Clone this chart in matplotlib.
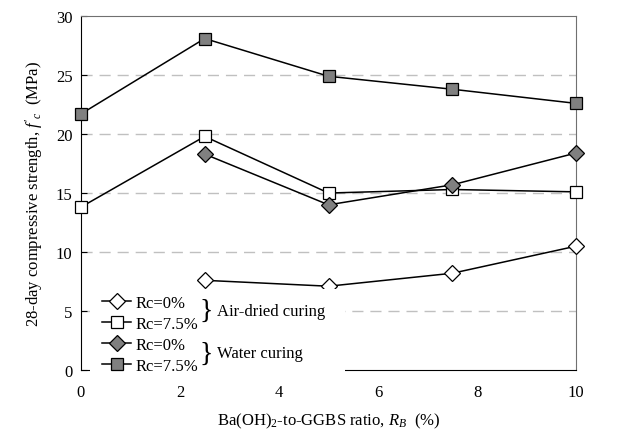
import matplotlib
matplotlib.use("Agg")
import matplotlib.pyplot as plt
from matplotlib.patches import Rectangle

# data
ratio_rb = [0, 2.5, 5, 7.5, 10]
air_rc0 = [None, 7.6, 7.1, 8.2, 10.5]
air_rc75 = [13.8, 19.8, 15.0, 15.3, 15.1]
water_rc0 = [None, 18.3, 14.0, 15.7, 18.4]
water_rc75 = [21.7, 28.1, 24.9, 23.8, 22.6]

y_ticks = [0, 5, 10, 15, 20, 25, 30]
x_ticks = [0, 2, 4, 6, 8, 10]


def clean(xs, ys):
    """Drop the points that have no value."""
    pairs = [(x, y) for x, y in zip(xs, ys) if y is not None]
    return [p[0] for p in pairs], [p[1] for p in pairs]


plt.rcParams["font.family"] = ["Liberation Serif", "DejaVu Serif"]
plt.rcParams["mathtext.fontset"] = "custom"
plt.rcParams["mathtext.rm"] = "Liberation Serif"
plt.rcParams["mathtext.it"] = "Liberation Serif:italic"
plt.rcParams["font.size"] = 12

fig = plt.figure(figsize=(6.17, 4.39), dpi=100)
ax = fig.add_axes([0.131, 0.155, 0.803, 0.806])

series = [
    (air_rc0, "D", "white", 8.5, "Rc=0%"),
    (air_rc75, "s", "white", 8, "Rc=7.5%"),
    (water_rc0, "D", "#808080", 8.5, "Rc=0%"),
    (water_rc75, "s", "#808080", 8, "Rc=7.5%"),
]
handles = []
for values, marker, face, size, label in series:
    xs, ys = clean(ratio_rb, values)
    (line,) = ax.plot(xs, ys, color="black", lw=1.1, marker=marker,
                      markersize=size, markerfacecolor=face,
                      markeredgecolor="black", markeredgewidth=0.9,
                      label=label, clip_on=False, zorder=3)
    handles.append(line)

ax.set_xlim(0, 10)
ax.set_ylim(0, 30)
ax.set_xticks(x_ticks)
ax.set_yticks(y_ticks)
ax.tick_params(axis="x", length=0, pad=10)
ax.tick_params(axis="y", direction="in", length=4, pad=6)

for y in y_ticks[1:-1]:
    ax.axhline(y, color="#c0c0c0", lw=1, dashes=(8, 5), zorder=1)

ax.spines["left"].set_color("black")
ax.spines["bottom"].set_color("black")
ax.spines["top"].set_color("#707070")
ax.spines["right"].set_color("#707070")

ax.set_ylabel("28-day compressive strength, $f'_c$  (MPa)", labelpad=8)
ax.set_xlabel("Ba(OH)$_2$-to-GGBS ratio, $R_B$  (%)", labelpad=8)

# white box behind the legend, hiding grid and axis line
ax.add_patch(Rectangle((0.018, -0.025), 0.515, 0.255, transform=ax.transAxes,
                       facecolor="white", edgecolor="none", zorder=4,
                       clip_on=False))

leg = ax.legend(handles=handles, loc="lower left",
                bbox_to_anchor=(0.02, -0.045), frameon=False,
                handlelength=1.7, handletextpad=0.3, labelspacing=0.3,
                borderpad=0.2, fontsize=12)
leg.set_zorder(5)

ax.text(0.24, 0.168, "}", transform=ax.transAxes, fontsize=20,
        va="center", ha="left", zorder=6)
ax.text(0.275, 0.168, "Air-dried curing", transform=ax.transAxes,
        va="center", ha="left", zorder=6)
ax.text(0.24, 0.048, "}", transform=ax.transAxes, fontsize=20,
        va="center", ha="left", zorder=6)
ax.text(0.275, 0.048, "Water curing", transform=ax.transAxes,
        va="center", ha="left", zorder=6)

fig.savefig("out.png", dpi=100)
